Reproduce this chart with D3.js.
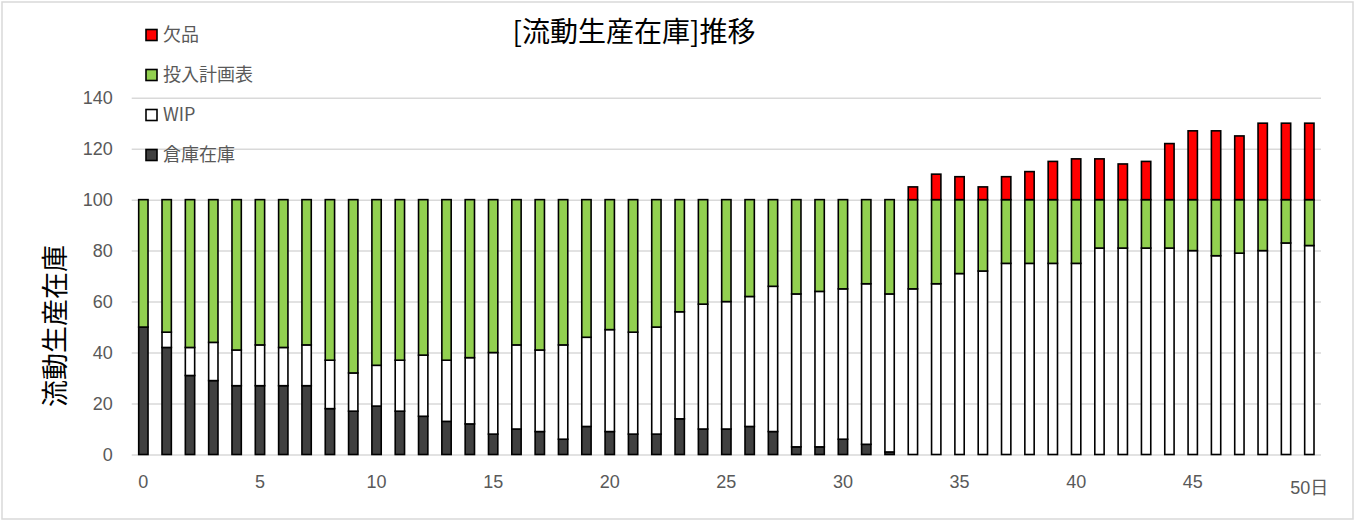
<!DOCTYPE html>
<html><head><meta charset="utf-8">
<script src="https://cdn.jsdelivr.net/npm/d3@7"></script>
<style>
html,body{margin:0;padding:0;background:#fff;}
svg{display:block;}
</style></head>
<body>
<svg id="chart" width="1357" height="522"></svg>
<script>
const days = d3.range(0, 51);
const stock = [50,42,31,29,27,27,27,27,18,17,19,17,15,13,12,8,10,9,6,11,9,8,8,14,10,10,11,9,3,3,6,4,1,0,0,0,0,0,0,0,0,0,0,0,0,0,0,0,0,0,0];
const wip = [0,6,11,15,14,16,15,16,19,15,16,20,24,24,26,32,33,32,37,35,40,40,42,42,49,50,51,57,60,61,59,63,62,65,67,71,72,75,75,75,75,81,81,81,81,80,78,79,80,83,82];
const plan = [50,52,58,56,59,57,58,57,63,68,65,63,61,63,62,60,57,59,57,54,51,52,50,44,41,40,38,34,37,36,35,33,37,35,33,29,28,25,25,25,25,19,19,19,19,20,22,21,20,17,18];
const shortage = [0,0,0,0,0,0,0,0,0,0,0,0,0,0,0,0,0,0,0,0,0,0,0,0,0,0,0,0,0,0,0,0,0,5,10,9,5,9,11,15,16,16,14,15,22,27,27,25,30,30,30];
const seriesNames = ["倉庫在庫","WIP","投入計画表","欠品"];
const seriesColors = ["#404040","#ffffff","#92d050","#ff0000"];
const yTicks = [0,20,40,60,80,100,120,140];
const xTickDays = [0,5,10,15,20,25,30,35,40,45,50];
const xTickLabels = ["0","5","10","15","20","25","30","35","40","45","50日"];
const title = "[流動生産在庫]推移";
const yTitle = "流動生産在庫";

(function(){
const keys = ["stock","wip","plan","shortage"];
const table = days.map((d,i)=>({day:d, stock:stock[i], wip:wip[i], plan:plan[i], shortage:shortage[i]}));
const stacked = d3.stack().keys(keys)(table);

const svg = d3.select("#chart");
const pl = 131.7, pr = 1321, pt = 97.7, pb = 454.5;
const x = d3.scaleBand().domain(days).range([pl, pr]).paddingInner(0.6).paddingOuter(0.3);
const y = d3.scaleLinear().domain([0,140]).range([pb, pt]);
const tickFont = "'Liberation Sans','Noto Sans CJK JP',sans-serif";

svg.append("rect").attr("x",2).attr("y",2).attr("width",1351).attr("height",517)
  .attr("fill","#fff").attr("stroke","#d9d9d9").attr("stroke-width",1.5);

const yAxis = d3.axisLeft(y).tickValues(yTicks).tickSize(-(pr-pl)).tickPadding(19);
const gy = svg.append("g").attr("transform",`translate(${pl},0)`).call(yAxis);
gy.select(".domain").remove();
gy.selectAll(".tick line").attr("stroke","#d9d9d9").attr("stroke-width",1.5);
gy.selectAll(".tick text").attr("fill","#595959").style("font-size","18px").style("font-family",tickFont);

const layers = svg.append("g").selectAll("g").data(stacked).join("g")
  .attr("fill",(d,i)=>seriesColors[i]);
layers.selectAll("rect").data(d=>d.filter(s=>s[1]-s[0]>0)).join("rect")
  .attr("x",d=>x(d.data.day))
  .attr("width",x.bandwidth())
  .attr("y",d=>y(d[1]))
  .attr("height",d=>y(d[0])-y(d[1]))
  .attr("stroke","#000").attr("stroke-width",1.6);

const xAxis = d3.axisBottom(x).tickValues(xTickDays).tickSize(0).tickPadding(21)
  .tickFormat((d,i)=>xTickLabels[i]);
const gx = svg.append("g").attr("transform",`translate(0,${pb})`).call(xAxis);
gx.select(".domain").remove();
gx.selectAll(".tick text").attr("fill","#595959").style("font-size","18px").style("font-family",tickFont)
  .attr("dy",(d,i)=> i===xTickLabels.length-1 ? "1.05em" : "0.71em");

svg.append("text").attr("x",634).attr("y",42).attr("text-anchor","middle")
  .style("font-family","'Noto Sans CJK JP',sans-serif").style("font-size","28px").attr("fill","#000")
  .text(title);

svg.append("text").attr("transform","translate(65,326) rotate(-90)").attr("text-anchor","middle")
  .style("font-family","'Noto Sans CJK JP',sans-serif").style("font-size","27px").attr("fill","#000")
  .text(yTitle);

const legendOrder = [3,2,1,0];
const lg = svg.append("g").selectAll("g").data(legendOrder).join("g")
  .attr("transform",(d,i)=>`translate(146,${35+i*40})`);
lg.append("rect").attr("x",0).attr("y",-5.5).attr("width",11).attr("height",11)
  .attr("fill",d=>seriesColors[d]).attr("stroke","#000").attr("stroke-width",1.6);
lg.append("text").attr("x",17).attr("y",0).attr("dy","0.36em")
  .style("font-family","'Noto Sans CJK JP',sans-serif").style("font-size","18px").attr("fill","#595959")
  .text(d=>seriesNames[d]);
})();
</script>
</body></html>
